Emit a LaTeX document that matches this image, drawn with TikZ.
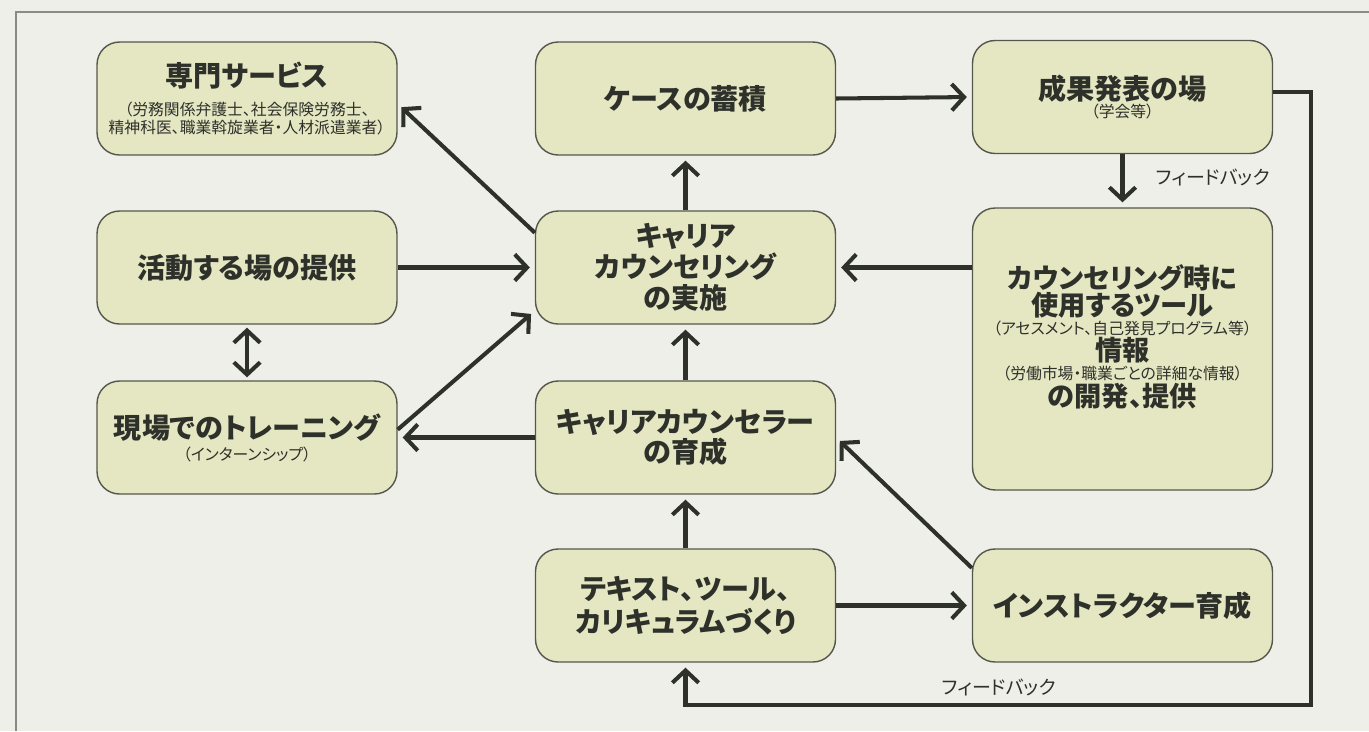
\documentclass[tikz,border=0pt]{standalone}
\usepackage{fontspec}
\setmainfont{Noto Sans CJK JP}[RawFeature=+palt]
\usetikzlibrary{arrows.meta}

\definecolor{paper}{HTML}{EFEFE9}
\definecolor{boxfill}{HTML}{E5E7C3}
\definecolor{boxline}{HTML}{55574C}
\definecolor{ink}{HTML}{2E302A}
\definecolor{framec}{HTML}{8A8C84}

\newcommand\subtxt[1]{{\mdseries\fontsize{9}{10}\selectfont #1}}

\tikzset{
	box/.style={draw=boxline, fill=boxfill, line width=0.8pt, rounded corners=0.45cm,
		minimum width=6cm, minimum height=2.26cm, align=center, text=ink,
		font=\bfseries\fontsize{16}{17.5}\selectfont},
	boxtext/.style={align=center, text=ink, font=\bfseries\fontsize{15.5}{17.5}\selectfont},
	arr/.style={draw=ink, line width=2.3pt, shorten >=0.1cm,
		-{Straight Barb[length=7pt,width=15pt]}},
	arrboth/.style={draw=ink, line width=2.3pt, shorten >=0.06cm, shorten <=0.06cm,
		{Straight Barb[length=7pt,width=15pt]}-{Straight Barb[length=7pt,width=15pt]}},
	fb/.style={text=ink, font=\fontsize{10.8}{12}\selectfont}
}

\begin{document}
\begin{tikzpicture}[x=0.02cm, y=-0.02cm]
	\fill[paper] (0,0) rectangle (1369,731);
	\useasboundingbox (0,0) rectangle (1369,731);
	\draw[framec, line width=0.6pt] (1369,12) -- (16,12) -- (16,731);

	% top row
	\node[box] (senmon)   at (247,98.5)  {専門サービス\\[-1.3pt]\subtxt{（労務関係弁護士、社会保険労務士、}\\[-7.3pt]\subtxt{精神科医、職業斡旋業者・人材派遣業者）}};
	\node[box] (keesu)    at (685.5,98.5) {ケースの蓄積};
	\node[box] (seika)    at (1122.5,97) {成果発表の場\\[-7pt]\subtxt{（学会等）}};

	% second row
	\node[box] (katsudo)  at (247,267.5) {活動する場の提供};
	\node[box] (jisshi)   at (685.5,267.5) {キャリア\\カウンセリング\\の実施};
	\node[box, minimum height=5.64cm] (tools) at (1122.5,349) {};
	\node[boxtext] (toolstxt) at (1122.5,337) {カウンセリング時に\\[-2pt]使用するツール\\[-7pt]\subtxt{（アセスメント、自己発見プログラム等）}\\[-2.5pt]情報\\[-7pt]\subtxt{（労働市場・職業ごとの詳細な情報）}\\[-2pt]の開発、提供};

	% third row
	\node[box] (genba)    at (247,437.5) {現場でのトレーニング\\[-5pt]\subtxt{（インターンシップ）}};
	\node[box] (ikusei)   at (685.5,437.5) {キャリアカウンセラー\\の育成};

	% bottom row
	\node[box] (tekisuto) at (685.5,605.5) {テキスト、ツール、\\[1.3pt]カリキュラムづくり};
	\node[box] (instr)    at (1122.5,605.5) {インストラクター育成};

	\node[fb] (fbtop)    at (1213,177) {フィードバック};
	\node[fb] (fbbottom) at (999,687)  {フィードバック};
	\coordinate (fbturn) at (1311,705);

	\draw[arr] (keesu.east) -- (seika.west);
	\draw[arr] (seika.south) -- (tools.north);
	\draw[arr] (tools.west |- jisshi.east) -- (jisshi.east);
	\draw[arr] (jisshi.north) -- (keesu.south);
	\draw[arr] (jisshi.167) -- (senmon.-2);
	\draw[arr] (katsudo.east) -- (jisshi.west);
	\draw[arrboth] (katsudo.south) -- (genba.north);
	\draw[arr] (ikusei.north) -- (jisshi.south);
	\draw[arr] (genba.3) -- (jisshi.196);
	\draw[arr] (ikusei.west) -- (genba.east);
	\draw[arr] (tekisuto.north) -- (ikusei.south);
	\draw[arr] (tekisuto.east) -- (instr.west);
	\draw[arr] (instr.166) -- (ikusei.east);
	\draw[arr] (seika.2) -| (fbturn) -| (tekisuto.south);
\end{tikzpicture}
\end{document}
